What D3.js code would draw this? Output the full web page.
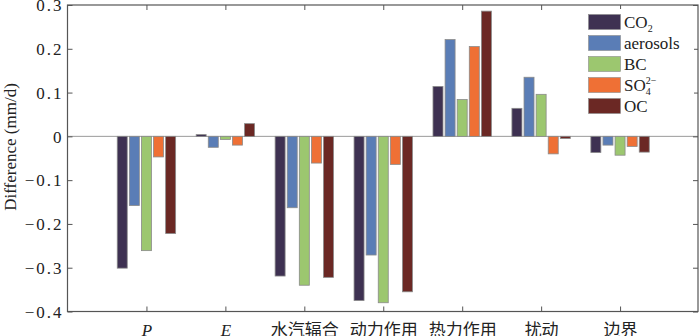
<!DOCTYPE html>
<html>
<head>
<meta charset="utf-8">
<script src="https://cdn.jsdelivr.net/npm/d3@7"></script>
<style>
  html, body { margin: 0; padding: 0; background: #fff; }
  svg { display: block; }
</style>
</head>
<body>
<svg id="chart" width="700" height="336"></svg>
<script>
// ---- data ----
const categories = ["P", "E", "水汽辐合", "动力作用", "热力作用", "扰动", "边界"];
const seriesNames = ["CO2", "aerosols", "BC", "SO4", "OC"];
const co2Values      = [-0.301,  0.004, -0.319, -0.375, 0.114,  0.064, -0.037];
const aerosolsValues = [-0.158, -0.025, -0.163, -0.271, 0.221,  0.135, -0.020];
const bcValues       = [-0.261, -0.007, -0.340, -0.380, 0.084,  0.096, -0.043];
const so4Values      = [-0.047, -0.020, -0.061, -0.064, 0.205, -0.040, -0.023];
const ocValues       = [-0.222,  0.029, -0.322, -0.355, 0.286, -0.005, -0.036];
const yTicks = [-0.4, -0.3, -0.2, -0.1, 0, 0.1, 0.2, 0.3];

const seriesValues = [co2Values, aerosolsValues, bcValues, so4Values, ocValues];
const colors = ["#3e3152", "#5a7db6", "#9cc76f", "#ef7035", "#6b2824"];

// ---- layout ----
const svg = d3.select("#chart");
const L = 67.5, R = 698, T = 5, B = 311.5;
const x = d3.scaleLinear().domain([0, categories.length + 1]).range([L, R + 1]);
const y = d3.scaleLinear().domain([-0.4, 0.3]).range([B, T]);
const barStep = 12.1, barW = 10;

const serif = "'Liberation Serif', 'Times New Roman', 'Noto Sans CJK SC', serif";

// zero line
svg.append("line")
  .attr("x1", L).attr("x2", R)
  .attr("y1", y(0)).attr("y2", y(0))
  .attr("stroke", "#9a9a9a").attr("stroke-width", 1);

// bars
seriesValues.forEach((vals, j) => {
  svg.append("g").selectAll("rect")
    .data(vals)
    .join("rect")
    .attr("x", (d, i) => x(i + 1) + (j - 2) * barStep - barW / 2)
    .attr("width", barW)
    .attr("y", d => y(Math.max(0, d)))
    .attr("height", d => Math.abs(y(d) - y(0)))
    .attr("fill", colors[j])
    .attr("stroke", "#8a8a8a")
    .attr("stroke-width", 0.8);
});

// axes
const axisColor = "#555";
const xTickVals = d3.range(1, categories.length + 1);

const gLeft = svg.append("g").attr("transform", `translate(${L},0)`)
  .call(d3.axisLeft(y).tickValues(yTicks).tickSize(-5).tickPadding(6)
    .tickFormat(d => d === 0 ? "0" : d3.format(".1f")(d).replace("-", "\u2212")));
const gRight = svg.append("g").attr("transform", `translate(${R},0)`)
  .call(d3.axisRight(y).tickValues(yTicks).tickSize(-5).tickFormat(""));
const gTop = svg.append("g").attr("transform", `translate(0,${T})`)
  .call(d3.axisTop(x).tickValues(xTickVals).tickSize(-5).tickFormat(""));
const gBottom = svg.append("g").attr("transform", `translate(0,${B})`)
  .call(d3.axisBottom(x).tickValues(xTickVals).tickSize(-5).tickPadding(0)
    .tickFormat(d => categories[d - 1]));

[gLeft, gRight, gTop, gBottom].forEach(g => {
  g.select(".domain").remove();
  g.selectAll(".tick line").attr("stroke", axisColor).attr("stroke-width", 1);
});

// box
svg.append("rect")
  .attr("x", L).attr("y", T).attr("width", R - L).attr("height", B - T)
  .attr("fill", "none").attr("stroke", axisColor).attr("stroke-width", 1.2);

gLeft.selectAll(".tick text")
  .attr("font-family", serif).attr("font-size", 17)
  .attr("letter-spacing", 2).attr("fill", "#222")
  .attr("x", -4).attr("dy", "0.34em");

gBottom.selectAll(".tick text")
  .attr("font-family", serif).attr("font-size", 17).attr("fill", "#222")
  .attr("y", 24).attr("dy", 0)
  .attr("font-style", d => d <= 2 ? "italic" : "normal");

// y title
svg.append("text")
  .attr("transform", "translate(16,147) rotate(-90)")
  .attr("text-anchor", "middle")
  .attr("font-family", serif).attr("font-size", 17).attr("fill", "#222")
  .text("Difference (mm/d)");

// legend
const legend = svg.append("g");
legend.append("rect")
  .attr("x", 582).attr("y", 9).attr("width", 112).attr("height", 112)
  .attr("fill", "#fff");
const legRowY = d3.scaleLinear().domain([0, 1]).range([14.5, 35.5]);
seriesNames.forEach((name, j) => {
  const yy = legRowY(j);
  legend.append("rect")
    .attr("x", 588.5).attr("y", yy).attr("width", 32).attr("height", 15)
    .attr("fill", colors[j]).attr("stroke", "#8a8a8a").attr("stroke-width", 0.6);
  const t = legend.append("text")
    .attr("x", 624).attr("y", yy + 13)
    .attr("font-family", serif).attr("font-size", 17).attr("fill", "#222");
  if (name === "CO2") {
    t.append("tspan").text("CO");
    t.append("tspan").attr("font-size", 10).attr("dy", 4).text("2");
  } else if (name === "SO4") {
    t.append("tspan").text("SO");
    t.append("tspan").attr("font-size", 10).attr("dy", 4).text("4");
    t.append("tspan").attr("font-size", 10).attr("dx", -5).attr("dy", -11).text("2\u2212");
  } else {
    t.text(name);
  }
});
</script>
</body>
</html>
